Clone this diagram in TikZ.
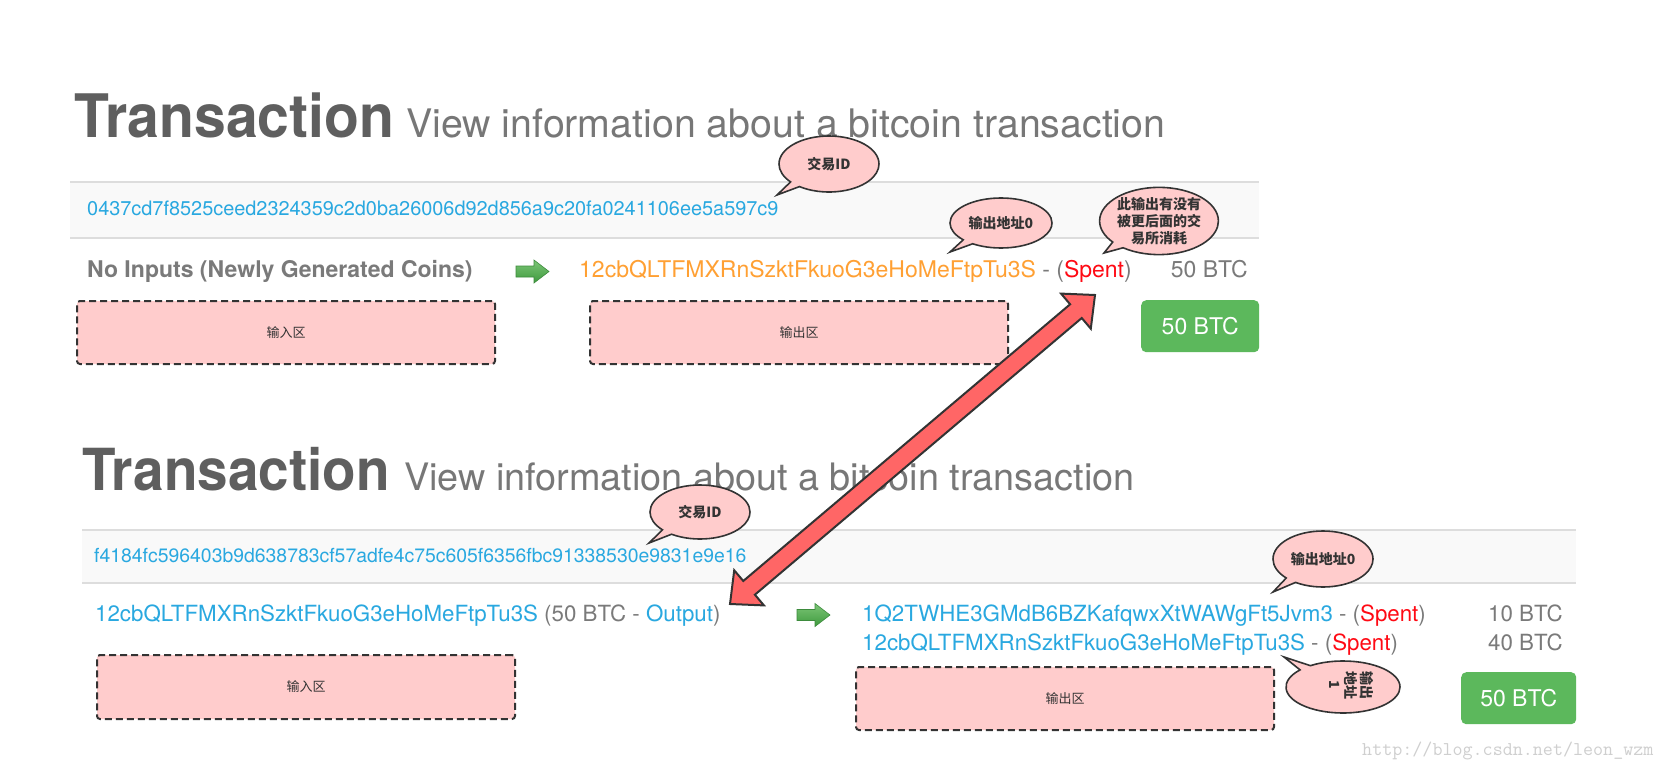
\documentclass[tikz,border=0pt]{standalone}
\usepackage{fontspec}
\setmainfont{TeX Gyre Heros}
\newfontfamily\cjk{Noto Sans CJK SC}
\usetikzlibrary{shapes.callouts,calc}
\definecolor{titlegray}{HTML}{5F5F5F}
\definecolor{subgray}{HTML}{777777}
\definecolor{txtgray}{HTML}{7A7A7A}
\definecolor{linkblue}{HTML}{29A8E0}
\definecolor{addrorange}{HTML}{FFA033}
\definecolor{spentred}{HTML}{FF0A14}
\definecolor{bandfill}{HTML}{F9F9F9}
\definecolor{bandline}{HTML}{DDDDDD}
\definecolor{pink}{HTML}{FFCCCC}
\definecolor{darkline}{HTML}{333333}
\definecolor{btngreen}{HTML}{5CB85C}
\definecolor{arrowred}{HTML}{FF6666}
\definecolor{gtop}{HTML}{7CC576}
\definecolor{gbot}{HTML}{3E9A3E}
\definecolor{gdraw}{HTML}{3D8B3D}
\definecolor{wmark}{HTML}{CFCFCF}
\tikzset{
  ttl/.style={anchor=base west, inner sep=0pt, text=titlegray, font=\bfseries\fontsize{#1}{#1}\selectfont},
  subttl/.style={anchor=base west, inner sep=0pt, text=subgray, font=\fontsize{#1}{#1}\selectfont},
  band/.style={fill=bandfill, inner sep=0pt, anchor=north west},
  bandedge/.style={draw=bandline, line width=2pt},
  txid/.style={anchor=base west, inner sep=0pt, text=linkblue, font=\fontsize{#1}{#1}\selectfont},
  rowtext/.style={anchor=base west, inner sep=0pt, text=txtgray, font=\fontsize{#1}{#1}\selectfont},
  rowbold/.style={anchor=base west, inner sep=0pt, text=txtgray, font=\bfseries\fontsize{#1}{#1}\selectfont},
  pinkbox/.style={draw=darkline, fill=pink, line width=2pt, dash pattern=on 7pt off 4pt, rounded corners=3pt, anchor=north west, inner sep=0pt, font=\cjk\fontsize{13}{13}\selectfont, text=darkline},
  btn/.style={fill=btngreen, rounded corners=5pt, anchor=north west, inner sep=0pt, text=white, font=\fontsize{23}{23}\selectfont},
  garrowshape/.style={top color=gtop, bottom color=gbot, draw=gdraw, line width=0.6pt, line join=miter},
  bubble/.style={ellipse callout, fill=pink, draw=darkline, line width=1.6pt, inner sep=0pt, text=darkline, font=\cjk\bfseries\fontsize{14}{17}\selectfont, align=center, callout pointer arc=14},
  redarrow/.style={fill=arrowred, draw=darkline, line width=2pt, line join=miter},
  wm/.style={anchor=base west, inner sep=0pt, text=wmark, font=\ttfamily\fontsize{19.5}{19.5}\selectfont}
}
\begin{document}
\begin{tikzpicture}[x=1pt,y=-1pt]
\useasboundingbox[fill=white] (0,0) rectangle (1662,770);

% ---------------- top transaction ----------------
\node[ttl=60] (t1) at (74,138) {\scalebox{0.952}[1]{Transaction}};
\node[subttl=39.3] (s1) at (406,138) {View information about a bitcoin transaction};

\node[band, minimum width=1189pt, minimum height=56pt] (b1) at (70,182) {};
\draw[bandedge] (b1.north west) -- (b1.north east);
\draw[bandedge] (b1.south west) -- (b1.south east);
\node[txid=19.9] (id1) at (87,215) {0437cd7f8525ceed2324359c2d0ba26006d92d856a9c20fa0241106ee5a597c9};

\node[rowbold=23] (in1) at (87,277) {No Inputs (Newly Generated Coins)};
\coordinate (g1) at (532,271.5);
\draw[garrowshape] ($(g1)+(-16,-5.5)$) -- ($(g1)+(2,-5.5)$) -- ($(g1)+(2,-11.5)$) -- ($(g1)+(17,0)$)
  -- ($(g1)+(2,11.5)$) -- ($(g1)+(2,5.5)$) -- ($(g1)+(-16,5.5)$) -- cycle;
\node[rowtext=23] (out1) at (579,277) {\textcolor{addrorange}{12cbQLTFMXRnSzktFkuoG3eHoMeFtpTu3S} - (\textcolor{spentred}{Spent})};
\node[rowtext=23, anchor=base east] (v1) at (1248,277) {50 BTC};

\node[pinkbox, minimum width=418pt, minimum height=63pt] (ib1) at (76,300) {输入区};
\node[pinkbox, minimum width=418pt, minimum height=63pt] (ob1) at (589,300) {输出区};
\node[btn, minimum width=118pt, minimum height=52pt] (btn1) at (1141,300) {50 BTC};

\node[bubble, minimum width=100pt, minimum height=56pt, callout absolute pointer={(777,195)}] (c1) at (829,164) {交易ID};
\node[bubble, minimum width=102pt, minimum height=50pt, callout absolute pointer={(950,252)}] (c2) at (1001,223) {输出地址0};
\node[bubble, minimum width=110pt, minimum height=58pt, callout absolute pointer={(1104,253)}] (c3) at (1159,221) {此输出有没有\\被更后面的交\\易所消耗};

% ---------------- bottom transaction ----------------
\node[ttl=58] (t2) at (82,490) {\scalebox{0.946}[1]{Transaction}};
\node[subttl=37.8] (s2) at (404,490) {View information about a bitcoin transaction};

\node[band, minimum width=1494pt, minimum height=53pt] (b2) at (82,530) {};
\draw[bandedge] (b2.north west) -- (b2.north east);
\draw[bandedge] (b2.south west) -- (b2.south east);
\node[txid=19.4] (id2) at (94,562) {f4184fc596403b9d638783cf57adfe4c75c605f6356fbc91338530e9831e9e16};

\node[rowtext=22.3] (in2) at (95,621) {\textcolor{linkblue}{12cbQLTFMXRnSzktFkuoG3eHoMeFtpTu3S} (50 BTC - \textcolor{linkblue}{Output})};
\coordinate (g2) at (813,615);
\draw[garrowshape] ($(g2)+(-16,-5.5)$) -- ($(g2)+(2,-5.5)$) -- ($(g2)+(2,-11.5)$) -- ($(g2)+(17,0)$)
  -- ($(g2)+(2,11.5)$) -- ($(g2)+(2,5.5)$) -- ($(g2)+(-16,5.5)$) -- cycle;
\node[rowtext=22.3] (out2a) at (862,621) {\textcolor{linkblue}{1Q2TWHE3GMdB6BZKafqwxXtWAWgFt5Jvm3} - (\textcolor{spentred}{Spent})};
\node[rowtext=22.3] (out2b) at (862,650) {\textcolor{linkblue}{12cbQLTFMXRnSzktFkuoG3eHoMeFtpTu3S} - (\textcolor{spentred}{Spent})};
\node[rowtext=22.3, anchor=base east] (v2a) at (1563,621) {10 BTC};
\node[rowtext=22.3, anchor=base east] (v2b) at (1563,650) {40 BTC};

\node[pinkbox, minimum width=418pt, minimum height=64pt] (ib2) at (96,654) {输入区};
\node[pinkbox, minimum width=418pt, minimum height=63pt] (ob2) at (855,666) {输出区};
\node[btn, minimum width=115pt, minimum height=52pt] (btn2) at (1461,672) {50 BTC};

\node[bubble, minimum width=100pt, minimum height=54pt, callout absolute pointer={(649,543)}] (c4) at (700,512) {交易ID};
\node[bubble, minimum width=100pt, minimum height=56pt, callout absolute pointer={(1273,592)}] (c5) at (1323,559) {输出地址0};
\node[bubble, minimum width=114pt, minimum height=52pt, callout absolute pointer={(1284,657)}] (c6) at (1343,687) {};
\node[font=\cjk\bfseries\fontsize{14}{16}\selectfont, text=darkline, align=center, rotate=-90, inner sep=0pt] (c6t) at (1352,685) {输出\\地址\\1};

% ---------------- red double arrow ----------------
\coordinate (ra) at (730,604);
\coordinate (rb) at (1095,295);
\coordinate (ha) at ($(ra)!25pt!(rb)$);
\coordinate (hb) at ($(rb)!25pt!(ra)$);
\draw[redarrow] (ra) -- ($(ha)!23pt!90:(rb)$) -- ($(ha)!9pt!90:(rb)$) -- ($(hb)!9pt!-90:(ra)$) -- ($(hb)!23pt!-90:(ra)$) -- (rb)
  -- ($(hb)!23pt!90:(ra)$) -- ($(hb)!9pt!90:(ra)$) -- ($(ha)!9pt!-90:(rb)$) -- ($(ha)!23pt!-90:(rb)$) -- cycle;

\node[wm] (wm) at (1362,755) {http://blog.csdn.net/leon\_wzm};
\end{tikzpicture}
\end{document}
